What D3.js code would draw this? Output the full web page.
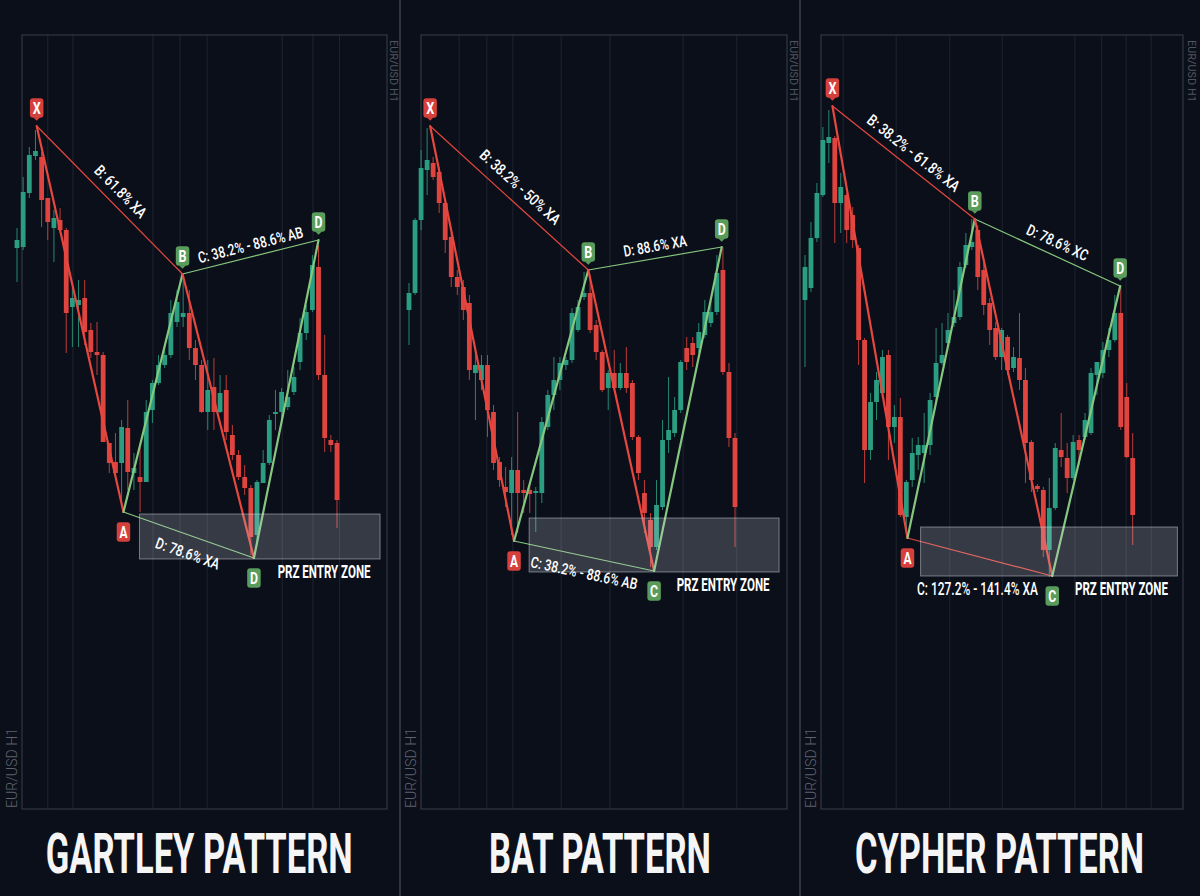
<!DOCTYPE html>
<html><head><meta charset="utf-8">
<script src="https://cdn.jsdelivr.net/npm/d3@7"></script>
<style>html,body{margin:0;padding:0;background:#0c101b;}svg{display:block;}</style>
</head><body><svg id="c" width="1200" height="896"></svg>
<script>
// ---------------- DATA ----------------
const titles = ["GARTLEY PATTERN", "BAT PATTERN", "CYPHER PATTERN"];
const symbolLabel = "EUR/USD H1";
const przLabel = "PRZ ENTRY ZONE";

// candles: [open, high, low, close]
const gartleyOHLC = [
[1.1062,1.1082,1.1028,1.1070],[1.1063,1.1133,1.1060,1.1118],[1.1117,1.1163,1.1112,1.1155],[1.1154,1.1180,1.1150,1.1159],
[1.1153,1.1158,1.1083,1.1110],[1.1112,1.1112,1.1070,1.1088],[1.1082,1.1100,1.1048,1.1092],[1.1090,1.1102,1.1077,1.1080],
[1.1080,1.1082,1.0957,1.0997],[1.1003,1.1022,1.0963,1.1012],[1.1005,1.1030,1.0963,1.1010],[1.1012,1.1030,1.0965,1.0978],
[1.0980,1.0987,1.0952,1.0958],[1.0958,1.0988,1.0935,1.0955],[1.0955,1.0958,1.0868,1.0868],[1.0867,1.0867,1.0837,1.0847],
[1.0848,1.0877,1.0837,1.0837],[1.0847,1.0890,1.0805,1.0883],[1.0882,1.0910,1.0820,1.0838],[1.0837,1.0857,1.0820,1.0842],
[1.0833,1.0863,1.0798,1.0828],[1.0828,1.0910,1.0828,1.0898],[1.0900,1.0930,1.0887,1.0927],[1.0927,1.0955,1.0925,1.0945],
[1.0945,1.0965,1.0942,1.0955],[1.0955,1.1010,1.0952,1.0997],[1.0988,1.1020,1.0983,1.1008],[1.0993,1.1036,1.0983,1.0997],
[1.0997,1.1020,1.0950,1.0962],[1.0962,1.0970,1.0930,1.0945],[1.0945,1.0950,1.0897,1.0898],[1.0898,1.0950,1.0880,1.0920],
[1.0923,1.0952,1.0880,1.0898],[1.0898,1.0935,1.0897,1.0917],[1.0920,1.0935,1.0870,1.0878],[1.0875,1.0885,1.0850,1.0855],
[1.0855,1.0860,1.0830,1.0833],[1.0833,1.0845,1.0815,1.0822],[1.0822,1.0825,1.0755,1.0773],[1.0775,1.0830,1.0765,1.0828],
[1.0827,1.0860,1.0827,1.0847],[1.0847,1.0895,1.0845,1.0890],[1.0896,1.0920,1.0880,1.0898],[1.0898,1.0922,1.0890,1.0918],
[1.0903,1.0940,1.0900,1.0913],[1.0918,1.0943,1.0915,1.0933],[1.0948,1.0992,1.0940,1.0977],[1.0977,1.1005,1.0970,1.0998],
[1.1000,1.1055,1.0998,1.1045],[1.1043,1.1065,1.0930,1.0935],[1.0935,1.0975,1.0858,1.0872],[1.0870,1.0875,1.0858,1.0865],
[1.0867,1.0870,1.0782,1.0810]
];
const batOHLC = [
[1.1000,1.1027,1.0965,1.1017],[1.1017,1.1092,1.1015,1.1090],[1.1090,1.1160,1.1080,1.1142],[1.1140,1.1182,1.1115,1.1150],
[1.1147,1.1153,1.1130,1.1133],[1.1138,1.1143,1.1097,1.1107],[1.1107,1.1110,1.1057,1.1070],[1.1073,1.1077,1.1023,1.1033],
[1.1033,1.1040,1.1015,1.1023],[1.1023,1.1030,1.0990,1.1000],[1.1007,1.1015,1.0930,1.0940],[1.0937,1.0960,1.0890,1.0945],
[1.0930,1.0955,1.0920,1.0945],[1.0945,1.0955,1.0873,1.0900],[1.0898,1.0905,1.0840,1.0847],[1.0848,1.0853,1.0823,1.0830],
[1.0823,1.0843,1.0803,1.0818],[1.0817,1.0853,1.0775,1.0840],[1.0840,1.0898,1.0777,1.0817],[1.0820,1.0830,1.0797,1.0817],
[1.0820,1.0827,1.0797,1.0816],[1.0817,1.0823,1.0778,1.0819],[1.0817,1.0893,1.0807,1.0888],[1.0883,1.0920,1.0880,1.0915],
[1.0915,1.0953,1.0900,1.0930],[1.0930,1.0953,1.0920,1.0947],[1.0945,1.0953,1.0940,1.0950],[1.0950,1.1002,1.0947,1.0997],
[1.0980,1.1010,1.0978,1.1003],[1.1013,1.1038,1.1010,1.1017],[1.1017,1.1035,1.0977,1.0980],[1.0985,1.0990,1.0950,1.0958],
[1.0958,1.0960,1.0918,1.0920],[1.0922,1.0940,1.0900,1.0937],[1.0937,1.0960,1.0920,1.0922],[1.0922,1.0947,1.0920,1.0937],
[1.0937,1.0963,1.0917,1.0922],[1.0927,1.0930,1.0870,1.0873],[1.0873,1.0875,1.0830,1.0837],[1.0817,1.0830,1.0777,1.0797],
[1.0790,1.0797,1.0743,1.0763],[1.0763,1.0830,1.0760,1.0805],[1.0803,1.0890,1.0800,1.0870],[1.0870,1.0933,1.0857,1.0880],
[1.0877,1.0913,1.0873,1.0900],[1.0900,1.0950,1.0897,1.0948],[1.0962,1.0973,1.0940,1.0948],[1.0967,1.0973,1.0943,1.0955],
[1.0962,1.0987,1.0957,1.0978],[1.0975,1.1010,1.0972,1.0998],[1.0987,1.1010,1.0983,1.0998],[1.0998,1.1055,1.0995,1.1037],
[1.1040,1.1063,1.0935,1.0938],[1.0938,1.0947,1.0863,1.0872],[1.0872,1.0877,1.0763,1.0803]
];
const cypherOHLC = [
[1.1010,1.1055,1.0943,1.1043],[1.1022,1.1088,1.1018,1.1072],[1.1072,1.1127,1.1068,1.1117],[1.1115,1.1183,1.1113,1.1170],
[1.1167,1.1200,1.1147,1.1173],[1.1172,1.1174,1.1067,1.1107],[1.1107,1.1137,1.1077,1.1123],[1.1115,1.1117,1.1067,1.1080],
[1.1095,1.1103,1.1062,1.1070],[1.1062,1.1065,1.0945,1.0970],[1.0970,1.0972,1.0827,1.0860],[1.0860,1.0917,1.0850,1.0908],
[1.0908,1.0938,1.0890,1.0930],[1.0917,1.0960,1.0913,1.0953],[1.0955,1.0960,1.0850,1.0883],[1.0883,1.0905,1.0867,1.0893],
[1.0893,1.0912,1.0793,1.0795],[1.0793,1.0830,1.0780,1.0828],[1.0830,1.0872,1.0823,1.0857],[1.0855,1.0873,1.0840,1.0865],
[1.0857,1.0897,1.0827,1.0865],[1.0865,1.0917,1.0855,1.0910],[1.0913,1.0982,1.0907,1.0947],[1.0947,1.0987,1.0945,1.0955],
[1.0967,1.0997,1.0963,1.0980],[1.0987,1.1020,1.0983,1.0993],[1.0993,1.1048,1.0990,1.1043],[1.1045,1.1077,1.1042,1.1065],
[1.1063,1.1091,1.1060,1.1068],[1.1080,1.1085,1.1020,1.1033],[1.1040,1.1048,1.0995,1.1005],[1.1007,1.1012,1.0965,1.0980],
[1.0982,1.0988,1.0950,1.0953],[1.0953,1.0982,1.0940,1.0980],[1.0973,1.0975,1.0935,1.0940],[1.0942,1.0963,1.0938,1.0953],
[1.0952,1.0997,1.0920,1.0930],[1.0930,1.0942,1.0827,1.0867],[1.0868,1.0870,1.0818,1.0830],[1.0824,1.0826,1.0818,1.0821],
[1.0820,1.0823,1.0753,1.0760],[1.0760,1.0832,1.0733,1.0802],[1.0802,1.0867,1.0800,1.0862],[1.0860,1.0897,1.0843,1.0853],
[1.0852,1.0867,1.0817,1.0832],[1.0832,1.0875,1.0830,1.0868],[1.0870,1.0875,1.0845,1.0860],[1.0873,1.0897,1.0870,1.0890],
[1.0877,1.0942,1.0875,1.0937],[1.0935,1.0948,1.0915,1.0948],[1.0937,1.0968,1.0932,1.0960],[1.0960,1.0982,1.0953,1.0970],
[1.0970,1.1015,1.0968,1.0997],[1.0997,1.1024,1.0880,1.0883],[1.0913,1.0927,1.0852,1.0853],[1.0852,1.0877,1.0765,1.0795]
];

// pattern pivots: bar index and price
const gartleyPivots = [
 {label:"X", bar:3.2, price:1.1184},{label:"A", bar:17.3, price:1.0798},{label:"B", bar:26.9, price:1.1036},
 {label:"D", bar:38.5, price:1.0752},{label:"D", bar:49.0, price:1.1070}];
const batPivots = [
 {label:"X", bar:3.5, price:1.1184},{label:"A", bar:17.4, price:1.0769},{label:"B", bar:29.7, price:1.1040},
 {label:"C", bar:40.6, price:1.0739},{label:"D", bar:51.8, price:1.1063}];
const cypherPivots = [
 {label:"X", bar:4.6, price:1.1204},{label:"A", bar:17.2, price:1.0772},{label:"B", bar:28.5, price:1.1091},
 {label:"C", bar:41.5, price:1.0734},{label:"D", bar:52.9, price:1.1024}];

// ratio annotations (on legs X-B, B-D, A-C/D)
const gartleyRatios = ["B: 61.8% XA", "C: 38.2% - 88.6% AB", "D: 78.6% XA"];
const batRatios = ["B: 38.2% - 50% XA", "D: 88.6% XA", "C: 38.2% - 88.6% AB"];
const cypherRatios = ["B: 38.2% - 61.8% XA", "D: 78.6% XC", "C: 127.2% - 141.4% XA"];

// PRZ zones: [startBar, endBar, lowPrice, highPrice]
const gartleyPRZ = [19.9, 59.0, 1.0751, 1.0796];
const batPRZ = [19.9, 61.3, 1.0738, 1.0792];
const cypherPRZ = [19.4, 62.5, 1.0734, 1.0783];

// vertical time grid (bar index)
const gartleyGrid = [5.0, 9.1, 22.1, 26.5, 30.9, 43.1, 48.1, 52.4];
const batGrid = [8.3, 12.9, 17.2, 25.2, 33.3, 45.4, 54.3];
const cypherGrid = [6.4, 15.3, 24.3, 33.1, 45.3, 49.8, 53.9, 58.1];

// ---------------- STYLE / LAYOUT ----------------
const BG = "#0b0f1a";
const TEAL = "#2b9e82", CRED = "#e0443f";
const LRED = "#e6473f", LGREEN = "#86c77f";
const BRED = "#d6403c", BGREEN = "#5a9c5b";
const legPairs = [[0,2],[2,4],[1,3]];

const layouts = [
 {frame:[22,35,387,809], bars:[17,337], titleX:199.2, titleW:307, rightLab:394, leftLab:12,
  thinColors:[LRED,LGREEN,LGREEN], off:[[11,-8.5],[0,-12],[-1,18.5]], w:[67,108,67], fs:[15.5,15.5,15.5], rot:[true,true,true]},
 {frame:[421,35,787,809], bars:[409,735], titleX:600, titleW:222, rightLab:794, leftLab:411,
  thinColors:[LRED,LGREEN,LGREEN], off:[[11,-11],[0,-12.5],[0,17]], w:[103,64,109], fs:[15.5,15.5,15.5], rot:[true,true,true]},
 {frame:[821,35,1183,809], bars:[805,1132.7], titleX:999.5, titleW:289, rightLab:1192, leftLab:811,
  thinColors:[LRED,LGREEN,LRED], off:[[10,-9.5],[10,-10],[-2.4,32]], w:[113.5,66,121], fs:[15.5,15.5,17.5], rot:[true,true,false]}
];

const panels = [
 {title:titles[0], ohlc:gartleyOHLC, pivots:gartleyPivots, ratios:gartleyRatios, prz:gartleyPRZ, grid:gartleyGrid},
 {title:titles[1], ohlc:batOHLC, pivots:batPivots, ratios:batRatios, prz:batPRZ, grid:batGrid},
 {title:titles[2], ohlc:cypherOHLC, pivots:cypherPivots, ratios:cypherRatios, prz:cypherPRZ, grid:cypherGrid}
];

// ---------------- DRAW ----------------
const svg = d3.select("#c");
svg.append("rect").attr("width",1200).attr("height",896).attr("fill",BG);

const y = d3.scaleLinear().domain([1.0500, 1.1275]).range([810, 35]);
const FONT = "Roboto, 'Open Sans', sans-serif";

// text condensed horizontally to a given width (via scale transform)
function label(parent, txt, x, yy, ang, w, o){
  const t = parent.append("text").attr("font-family",FONT).attr("font-size",o.fs)
    .attr("font-weight",o.fw||500).attr("fill",o.fill||"#ffffff")
    .attr("text-anchor",o.anchor||"middle").attr("dy",o.dy===undefined?"0.35em":o.dy).text(txt);
  const w0 = t.node().getComputedTextLength();
  t.attr("transform",`translate(${x},${yy}) rotate(${ang}) scale(${(w/w0).toFixed(4)},1)`);
  return t;
}

// separators
[400, 800].forEach(xp => svg.append("line").attr("x1",xp).attr("x2",xp).attr("y1",0).attr("y2",896)
  .attr("stroke","#3c4049").attr("stroke-width",1.5));

panels.forEach((P, pi) => {
  const L = layouts[pi];
  const g = svg.append("g");
  const n = P.ohlc.length;
  const x = d3.scaleLinear().domain([0, n-1]).range(L.bars);
  const [fx0, fy0, fx1, fy1] = L.frame;

  // grid
  g.selectAll(".grid").data(P.grid).join("line")
    .attr("x1", d => x(d)).attr("x2", d => x(d)).attr("y1", fy0).attr("y2", fy1)
    .attr("stroke", "#1f2430").attr("stroke-width", 1);
  // frame
  g.append("rect").attr("x",fx0).attr("y",fy0).attr("width",fx1-fx0).attr("height",fy1-fy0)
    .attr("fill","none").attr("stroke","#3a3f4b").attr("stroke-width",1);

  // candles
  const cg = g.append("g");
  cg.selectAll(".wick").data(P.ohlc).join("line")
    .attr("x1",(d,i)=>x(i)).attr("x2",(d,i)=>x(i))
    .attr("y1",d=>y(d[1])).attr("y2",d=>y(d[2]))
    .attr("stroke",d=>d[3]>=d[0]?TEAL:CRED).attr("stroke-width",1).attr("opacity",0.85);
  cg.selectAll(".body").data(P.ohlc).join("rect")
    .attr("x",(d,i)=>x(i)-2.4).attr("width",4.8)
    .attr("y",d=>y(Math.max(d[0],d[3])))
    .attr("height",d=>Math.max(1.2, Math.abs(y(d[0])-y(d[3]))))
    .attr("fill",d=>d[3]>=d[0]?TEAL:CRED);

  const pt = P.pivots.map(p => [x(p.bar), y(p.price)]);

  // thin legs
  legPairs.forEach((pr, k) => {
    g.append("line").attr("x1",pt[pr[0]][0]).attr("y1",pt[pr[0]][1])
      .attr("x2",pt[pr[1]][0]).attr("y2",pt[pr[1]][1])
      .attr("stroke",L.thinColors[k]).attr("stroke-width",1.2);
  });
  // thick legs
  for (let k=0;k<4;k++){
    g.append("line").attr("x1",pt[k][0]).attr("y1",pt[k][1]).attr("x2",pt[k+1][0]).attr("y2",pt[k+1][1])
      .attr("stroke", k%2===0 ? LRED : LGREEN).attr("stroke-width",2.2).attr("stroke-linecap","round");
  }

  // PRZ zone
  const [b0,b1,pl,ph] = P.prz;
  g.append("rect").attr("x",x(b0)).attr("y",y(ph)).attr("width",x(b1)-x(b0)).attr("height",y(pl)-y(ph))
    .attr("fill","rgba(210,214,224,0.22)").attr("stroke","rgba(225,228,235,0.45)").attr("stroke-width",1);
  label(g, przLabel, x(b1)-9.5, y(pl)+13, 0, 93, {fs:17.5, fw:700, anchor:"end"});

  // ratio labels
  P.ratios.forEach((txt, k) => {
    const [a,b] = legPairs[k];
    const mx = (pt[a][0]+pt[b][0])/2 + L.off[k][0];
    const my = (pt[a][1]+pt[b][1])/2 + L.off[k][1];
    const ang = L.rot[k] ? Math.atan2(pt[b][1]-pt[a][1], pt[b][0]-pt[a][0]) * 180/Math.PI : 0;
    label(g, txt, mx, my, ang, L.w[k], {fs:L.fs[k], fw:500});
  });

  // badges
  P.pivots.forEach((p, k) => {
    const [px, py] = pt[k];
    const up = k % 2 === 0;
    const cy = up ? py - 18 : py + 20;
    const col = (p.label === "X" || p.label === "A") ? BRED : BGREEN;
    const bw = 13.5, bh = 19.5;
    if (up) {
      g.append("path").attr("d",`M${px-3.5},${cy+bh/2-0.5} L${px},${cy+bh/2+3} L${px+3.5},${cy+bh/2-0.5} Z`).attr("fill",col);
    }
    g.append("rect").attr("x",px-bw/2).attr("y",cy-bh/2).attr("width",bw).attr("height",bh).attr("rx",3).attr("fill",col);
    label(g, p.label, px, cy, 0, 8, {fs:16, fw:700, dy:"0.36em"});
  });

  // symbol labels
  label(g, symbolLabel, L.rightLab, 40, 90, 62, {fs:11, fw:400, fill:"#4f5460", anchor:"start"});
  label(g, symbolLabel, L.leftLab, 808, -90, 80, {fs:14, fw:300, fill:"#5d626d", anchor:"start"});

  // title
  label(g, P.title, L.titleX, 873, 0, L.titleW, {fs:56, fw:700, fill:"#f5f5f5", dy:0});
});
</script></body></html>
